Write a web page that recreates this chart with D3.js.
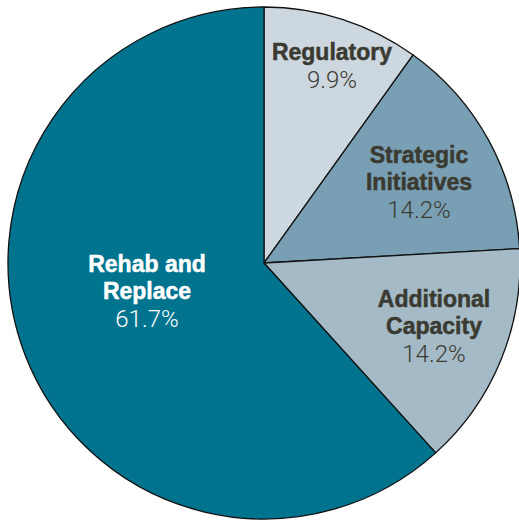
<!DOCTYPE html>
<html>
<head>
<meta charset="utf-8">
<script src="https://cdn.jsdelivr.net/npm/d3@7"></script>
<style>
  html, body { margin: 0; padding: 0; background: #fff; }
  svg { display: block; }
</style>
</head>
<body>
<script>
// Data
const categories = ["Regulatory", "Strategic Initiatives", "Additional Capacity", "Rehab and Replace"];
const shares = [9.9, 14.2, 14.2, 61.7];
const labelLines = [["Regulatory"], ["Strategic", "Initiatives"], ["Additional", "Capacity"], ["Rehab and", "Replace"]];

const width = 519, height = 523;
const cx = 264, cy = 263, radius = 256;

const color = d3.scaleOrdinal()
    .domain(categories)
    .range(["#cdd7df", "#789fb3", "#a4bac7", "#00738f"]);

// label anchor (centre x, first baseline) relative to pie centre
const labelAnchor = [[68, -203], [155, -100], [170, 44], [-117, 9]];

const svg = d3.select("body")
    .append("svg")
    .attr("width", width)
    .attr("height", height);

const g = svg.append("g")
    .attr("transform", `translate(${cx},${cy})`);

const pie = d3.pie().sort(null).value(d => d.value);
const arc = d3.arc().innerRadius(0).outerRadius(radius);

const data = categories.map((c, i) => ({ name: c, value: shares[i], lines: labelLines[i], idx: i }));

g.selectAll("path")
    .data(pie(data))
    .enter()
    .append("path")
    .attr("d", arc)
    .attr("fill", d => color(d.data.name))
    .attr("stroke", "#111")
    .attr("stroke-width", 1.3)
    .attr("stroke-linejoin", "round");

// labels
const labels = g.selectAll(".label")
    .data(data)
    .enter()
    .append("text")
    .attr("class", "label")
    .attr("text-anchor", "middle")
    .attr("fill", d => d.idx === 3 ? "#ffffff" : "#3b3a31");

labels.each(function(d) {
    const t = d3.select(this);
    const [x, y] = labelAnchor[d.idx];
    const fill = d.idx === 3 ? "#ffffff" : "#3b3a31";
    d.lines.forEach((line, j) => {
        t.append("tspan")
            .attr("x", x)
            .attr("y", y + j * 27)
            .style("font-family", "'Liberation Sans', Arial, sans-serif")
            .style("font-weight", "bold")
            .style("font-size", "23px")
            .attr("stroke", fill)
            .attr("stroke-width", 0.5)
            .text(line);
    });
    t.append("tspan")
        .attr("x", x)
        .attr("y", y + d.lines.length * 27 + 1)
        .style("font-family", "Roboto, 'Liberation Sans', sans-serif")
        .style("font-weight", 300)
        .style("font-size", "24px")
        .text(d.value.toFixed(1) + "%");
});
</script>
</body>
</html>
